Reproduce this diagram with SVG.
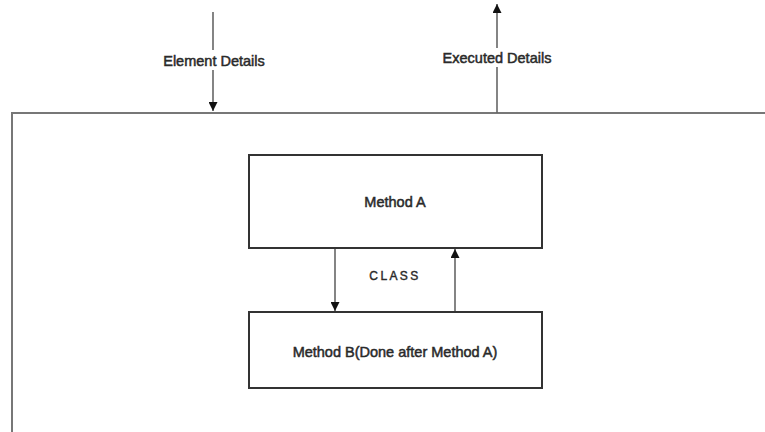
<svg xmlns="http://www.w3.org/2000/svg" width="765" height="432" viewBox="0 0 765 432">
  <style>
    .lbl { font-family: "Liberation Sans", Arial, sans-serif; font-size: 14.5px; fill: #2a2a2a; stroke: #2a2a2a; stroke-width: 0.5; text-anchor: middle; }
    .cls { font-family: "Liberation Sans", Arial, sans-serif; font-size: 12px; fill: #2a2a2a; stroke: #2a2a2a; stroke-width: 0.4; letter-spacing: 2.4px; text-anchor: middle; }
    .box { fill: #ffffff; stroke: #333333; stroke-width: 2; }
    .frame { fill: none; stroke: #777777; stroke-width: 2; }
    .conn { fill: none; stroke: #666666; stroke-width: 1.6; }
    .gap { fill: #ffffff; }
  </style>
  <defs>
    <marker id="head" viewBox="0 0 10 10" refX="10" refY="5" markerWidth="9" markerHeight="9" markerUnits="userSpaceOnUse" orient="auto">
      <path d="M0,0 L10,5 L0,10 Z" fill="#111111"/>
    </marker>
  </defs>
  <rect width="765" height="432" fill="#ffffff"/>

  <!-- enclosing class frame (top and left edges) -->
  <path class="frame" d="M12,432 L12,113 L765,113"/>

  <g id="connectors">
    <!-- input into the class -->
    <line class="conn" x1="213" y1="12" x2="213" y2="111" marker-end="url(#head)"/>
    <!-- output out of the class -->
    <line class="conn" x1="497" y1="113" x2="497" y2="4" marker-end="url(#head)"/>
    <!-- Method A to Method B -->
    <line class="conn" x1="335" y1="249" x2="335" y2="311" marker-end="url(#head)"/>
    <!-- Method B back to Method A -->
    <line class="conn" x1="455" y1="311" x2="455" y2="249" marker-end="url(#head)"/>
  </g>

  <g id="label-element-details">
    <rect class="gap" x="158" y="50" width="112" height="20"/>
    <text class="lbl" x="214" y="66">Element Details</text>
  </g>
  <g id="label-executed-details">
    <rect class="gap" x="437" y="48" width="120" height="19"/>
    <text class="lbl" x="497" y="63">Executed Details</text>
  </g>

  <g id="method-a">
    <rect class="box" x="249" y="155" width="293" height="93"/>
    <text class="lbl" x="395" y="207">Method A</text>
  </g>

  <g id="class-label">
    <text class="cls" x="395" y="280">CLASS</text>
  </g>

  <g id="method-b">
    <rect class="box" x="249" y="312" width="293" height="76"/>
    <text class="lbl" x="395" y="357">Method B(Done after Method A)</text>
  </g>
</svg>
